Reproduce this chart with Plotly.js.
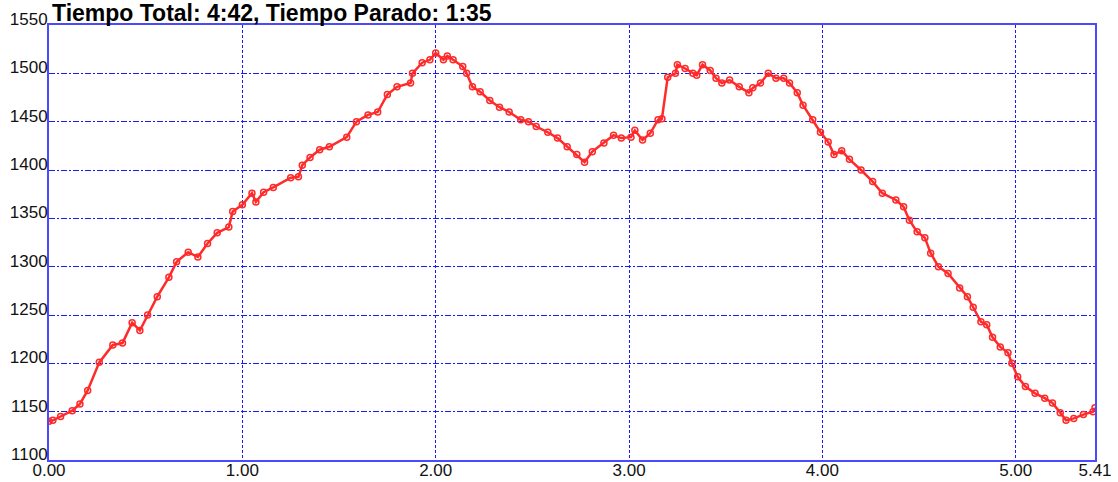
<!DOCTYPE html>
<html>
<head>
<meta charset="utf-8">
<script src="https://cdn.plot.ly/plotly-3.0.1.min.js"></script>
<style>html,body{margin:0;padding:0;background:#fff;}#chart{width:1118px;height:482px;}</style>
</head>
<body>
<div id="chart"></div>
<script>
const titleText = "Tiempo Total: 4:42, Tiempo Parado: 1:35";
const distance = [0.00,0.02,0.06,0.12,0.16,0.20,0.26,0.33,0.38,0.43,0.47,0.51,0.56,0.62,0.66,0.72,0.77,0.82,0.87,0.93,0.95,1.00,1.05,1.07,1.11,1.16,1.25,1.29,1.31,1.35,1.40,1.45,1.54,1.59,1.65,1.70,1.75,1.80,1.87,1.88,1.93,1.97,2.00,2.04,2.06,2.09,2.14,2.16,2.19,2.23,2.28,2.33,2.38,2.44,2.48,2.52,2.58,2.63,2.68,2.73,2.77,2.81,2.87,2.92,2.96,3.01,3.03,3.07,3.11,3.15,3.17,3.20,3.24,3.25,3.29,3.33,3.35,3.38,3.42,3.45,3.48,3.52,3.57,3.62,3.64,3.68,3.72,3.76,3.80,3.83,3.87,3.90,3.95,3.99,4.03,4.06,4.10,4.14,4.20,4.26,4.31,4.38,4.42,4.45,4.49,4.53,4.56,4.60,4.65,4.71,4.75,4.78,4.82,4.85,4.88,4.92,4.96,4.98,5.01,5.05,5.10,5.15,5.19,5.23,5.26,5.30,5.35,5.40,5.41];
const elevation = [1140,1141,1145,1151,1158,1172,1201,1219,1221,1242,1234,1250,1269,1289,1305,1315,1310,1324,1335,1341,1357,1364,1376,1367,1377,1382,1392,1393,1405,1413,1421,1424,1434,1450,1457,1460,1478,1486,1490,1500,1511,1514,1521,1514,1518,1514,1507,1500,1486,1481,1472,1465,1460,1452,1450,1445,1439,1433,1424,1416,1408,1419,1428,1436,1433,1434,1441,1431,1438,1452,1453,1496,1500,1509,1505,1500,1498,1509,1503,1495,1490,1493,1486,1480,1485,1490,1500,1495,1495,1490,1480,1467,1452,1439,1429,1416,1420,1411,1400,1388,1376,1369,1362,1348,1336,1330,1314,1300,1293,1278,1269,1258,1243,1240,1227,1217,1211,1200,1186,1176,1169,1164,1159,1149,1141,1143,1147,1150,1154];
const xTickVals = [0,1,2,3,4,5,5.41];
const xTickText = ["0.00","1.00","2.00","3.00","4.00","5.00","5.41"];
const yTickVals = [1100,1150,1200,1250,1300,1350,1400,1450,1500,1550];

const trace = {
  x: distance, y: elevation, type: 'scatter', mode: 'lines+markers',
  line: {color: '#ff2a2a', width: 2.5},
  marker: {symbol: 'circle-open', size: 6, color: '#ff2a2a', line: {width: 1.5, color: '#ff2a2a'}},
  hoverinfo: 'skip'
};
const tickFont = {family: 'Liberation Sans, Arial, sans-serif', size: 17, color: '#111'};
const layout = {
  width: 1118, height: 482,
  margin: {l: 49, r: 23, t: 25, b: 22, pad: 0},
  paper_bgcolor: '#fff', plot_bgcolor: '#fff',
  showlegend: false,
  title: {
    text: '<b>' + titleText + '</b>',
    font: {family: 'Liberation Sans, Arial, sans-serif', size: 23, color: '#000'},
    xref: 'container', yref: 'container', x: 52/1118, xanchor: 'left',
    y: 1 - 13/482, yanchor: 'middle'
  },
  xaxis: {
    range: [0, 5.41], tickvals: xTickVals, ticktext: xTickText,
    showgrid: true, gridcolor: '#1a1aff', gridwidth: 1, griddash: '3px,2px',
    showline: true, mirror: true, linecolor: '#4a4aff', linewidth: 2,
    ticks: '', zeroline: false, tickfont: tickFont, ticklabelstandoff: -6
  },
  yaxis: {
    range: [1100, 1550], tickvals: yTickVals,
    showgrid: true, gridcolor: '#1a1aff', gridwidth: 1, griddash: '6px,2px,2px,2px',
    showline: true, mirror: true, linecolor: '#4a4aff', linewidth: 2,
    ticks: '', zeroline: false, tickfont: tickFont, ticklabelstandoff: -4, ticklabelshift: -6
  }
};
Plotly.newPlot('chart', [trace], layout, {displayModeBar: false, staticPlot: true});
</script>
</body>
</html>
